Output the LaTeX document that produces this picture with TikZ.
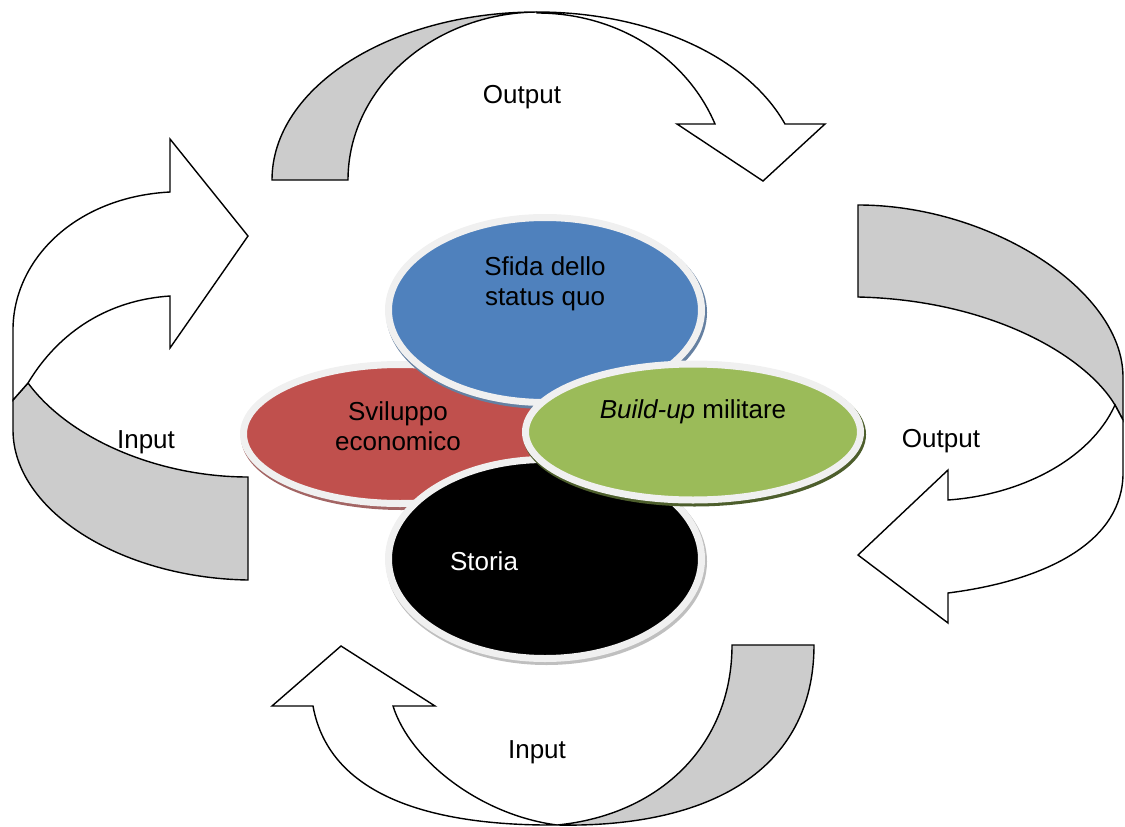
\documentclass[tikz,border=0pt]{standalone}
\usepackage{fontspec}
\setmainfont{Liberation Sans}
\usetikzlibrary{shapes.geometric}
\definecolor{sfidablue}{HTML}{4F81BD}
\definecolor{svilred}{HTML}{C0504D}
\definecolor{buildgreen}{HTML}{9BBB59}
\definecolor{rimgray}{HTML}{F0F0F0}
\definecolor{bandgray}{HTML}{CCCCCC}

\begin{document}
\begin{tikzpicture}[x=1pt,y=-1pt,
    blob/.style 2 args={ellipse, inner sep=0pt, fill=#1, draw=rimgray, line width=7pt,
      preaction={draw=#2, line width=8pt, transform canvas={shift={(1.5pt,-2.5pt)}}}},
    band/.style={draw=black, line width=1.4pt, fill=bandgray},
    face/.style={draw=black, line width=1.4pt, fill=white},
    lbl/.style={font=\fontsize{26}{30}\selectfont, align=center}]
    \useasboundingbox (0,0) rectangle (1125,827);
    % top arrow
    \draw[band] (272,180) .. controls (272,87) and (391,12) .. (537,12)
          .. controls (433,13) and (348,88) .. (348,180) -- cycle;
    \draw[face] (537,12) .. controls (647,12) and (746,55) .. (785,124) -- (825,124)
          -- (763,181) -- (677,124) -- (715,124) .. controls (686,56) and (616,13) .. (537,13) -- cycle;
    % right arrow
    \draw[band] (858,205) .. controls (990,205) and (1123,290) .. (1123,377) -- (1123,420)
          -- (1115,405) .. controls (1085,355) and (990,300) .. (858,297) -- cycle;
    \draw[face] (1115,405) .. controls (1090,460) and (1020,495) .. (948,500) -- (948,470)
          -- (858,555) -- (948,623) -- (948,593) .. controls (1050,580) and (1123,540) .. (1123,473)
          -- (1123,420) -- cycle;
    % left arrow
    \draw[band] (28,383) .. controls (70,440) and (160,477) .. (248,477) -- (248,580)
          .. controls (120,578) and (13,510) .. (13,430) -- (13,400) -- cycle;
    \draw[face] (170,192) .. controls (75,197) and (13,260) .. (13,330) -- (13,400) -- (28,383)
          .. controls (60,330) and (110,300) .. (170,296) -- (170,348) -- (248,236) -- (170,139) -- cycle;
    % bottom arrow
    \draw[band] (732,645) -- (814,645) .. controls (814,770) and (710,828) .. (557,825)
          .. controls (660,815) and (732,745) .. (732,645) -- cycle;
    \draw[face] (557,825) .. controls (440,826) and (330,800) .. (313,706) -- (272,706) -- (341,646)
          -- (435,706) -- (393,706) .. controls (410,760) and (480,815) .. (557,825) -- cycle;

    \node[blob={svilred}{svilred!55!gray}, minimum width=313pt, minimum height=139pt] (svil) at (400,434) {};
    \node[blob={sfidablue}{sfidablue!55!gray}, minimum width=313pt, minimum height=185pt] (sfida) at (545,310) {};
    \node[blob={black}{black!25}, minimum width=313pt, minimum height=199pt] (storia) at (545,559) {};
    \node[blob={buildgreen}{buildgreen!50!black}, minimum width=335pt, minimum height=136pt] (build) at (693,432) {};

    \node[lbl] (sfidaT) at (545,284) {Sfida dello\\status quo};
    \node[lbl] (svilT) at (398,426) {Sviluppo\\economico};
    \node[lbl] (buildT) at (693,412) {\textit{Build-up} militare};
    \node[lbl, text=white] (storiaT) at (484,561) {Storia};

    \node[lbl] (outTop) at (522,97) {Output};
    \node[lbl] (outRight) at (941,441) {Output};
    \node[lbl] (inLeft) at (146,442) {Input};
    \node[lbl] (inBottom) at (537,752) {Input};
  \end{tikzpicture}
\end{document}
